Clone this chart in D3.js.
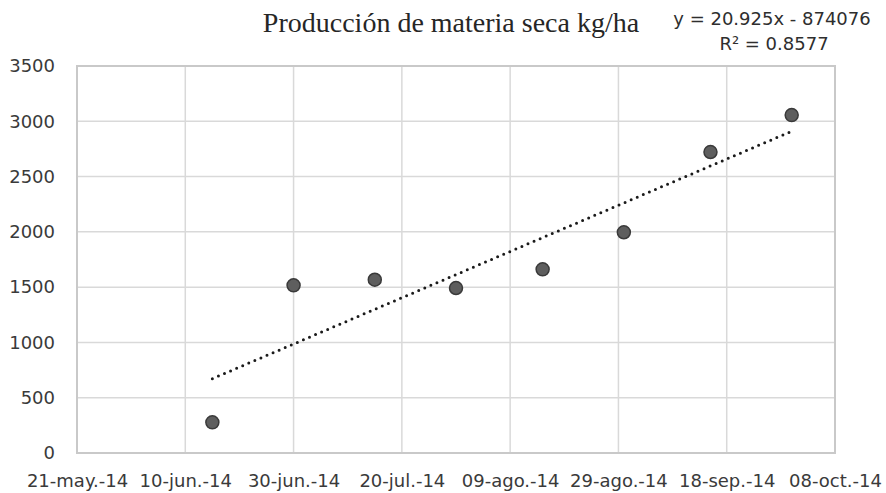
<!DOCTYPE html>
<html>
<head>
<meta charset="utf-8">
<script src="https://cdn.jsdelivr.net/npm/d3@7"></script>
<style>
  body { margin: 0; background: #fff; }
  svg { display: block; }
</style>
</head>
<body>
<svg id="chart" width="886" height="493"></svg>
<script>
// sample dates and dry matter (kg/ha)
const sampleDates = ["2014-06-15", "2014-06-30", "2014-07-15", "2014-07-30",
                     "2014-08-15", "2014-08-30", "2014-09-15", "2014-09-30"];
const dryMatter = [277, 1516, 1567, 1492, 1661, 1996, 2722, 3056];

const xTickDates = ["2014-05-21", "2014-06-10", "2014-06-30", "2014-07-20",
                    "2014-08-09", "2014-08-29", "2014-09-18", "2014-10-08"];
const xTickLabels = ["21-may.-14", "10-jun.-14", "30-jun.-14", "20-jul.-14",
                     "09-ago.-14", "29-ago.-14", "18-sep.-14", "08-oct.-14"];
const yTicks = [0, 500, 1000, 1500, 2000, 2500, 3000, 3500];

const titleText = "Producción de materia seca kg/ha";
const eqLine1 = "y = 20.925x - 874076";
const eqLine2 = "R² = 0.8577";

const parse = d3.utcParse("%Y-%m-%d");
const plotL = 77, plotR = 835, plotT = 66, plotB = 453;

const svg = d3.select("#chart");

const x = d3.scaleUtc()
  .domain([parse(xTickDates[0]), parse(xTickDates[xTickDates.length - 1])])
  .range([plotL, plotR]);
const y = d3.scaleLinear().domain([0, 3500]).range([plotB, plotT]);

// gridlines
const grid = svg.append("g");
grid.selectAll(".hg").data(yTicks).join("line")
  .attr("x1", plotL).attr("x2", plotR)
  .attr("y1", d => y(d)).attr("y2", d => y(d))
  .style("stroke", "#d9d9d9").style("stroke-width", 1.5);
grid.selectAll(".vg").data(xTickDates).join("line")
  .attr("x1", d => x(parse(d))).attr("x2", d => x(parse(d)))
  .attr("y1", plotT).attr("y2", plotB)
  .style("stroke", "#d9d9d9").style("stroke-width", 1.5);
svg.append("rect")
  .attr("x", plotL).attr("y", plotT)
  .attr("width", plotR - plotL).attr("height", plotB - plotT)
  .style("fill", "none").style("stroke", "#c9c9c9").style("stroke-width", 2);

// axes
const yAxis = svg.append("g")
  .attr("transform", `translate(${plotL},0)`)
  .call(d3.axisLeft(y).tickValues(yTicks).tickSize(0).tickPadding(22)
    .tickFormat(d3.format("d")));
const xAxis = svg.append("g")
  .attr("transform", `translate(0,${plotB})`)
  .call(d3.axisBottom(x).tickValues(xTickDates.map(parse)).tickSize(0).tickPadding(21)
    .tickFormat((d, i) => xTickLabels[i]));
[yAxis, xAxis].forEach(a => {
  a.select(".domain").remove();
  a.selectAll("text")
    .style("font-family", "DejaVu Sans")
    .style("font-size", "18px")
    .style("fill", "#3a3a3a");
});

// linear trend (least squares on day number)
const days = sampleDates.map(d => parse(d).getTime() / 864e5);
const mx = d3.mean(days), my = d3.mean(dryMatter);
const slope = d3.sum(days, (d, i) => (d - mx) * (dryMatter[i] - my)) /
              d3.sum(days, d => (d - mx) * (d - mx));
const icpt = my - slope * mx;
const trend = [days[0], days[days.length - 1]];
svg.append("path")
  .datum(trend)
  .attr("d", d3.line()
    .x(d => x(new Date(d * 864e5)))
    .y(d => y(icpt + slope * d)))
  .style("fill", "none")
  .style("stroke", "#1a1a1a")
  .style("stroke-width", 3)
  .style("stroke-linecap", "round")
  .style("stroke-dasharray", "0,6.6");

// points
svg.append("g").selectAll("circle")
  .data(sampleDates)
  .join("circle")
  .attr("cx", d => x(parse(d)))
  .attr("cy", (d, i) => y(dryMatter[i]))
  .attr("r", 6.5)
  .style("fill", "#5e5e5e")
  .style("stroke", "#3a3a3a")
  .style("stroke-width", 1.5);

// title and equation
svg.append("text")
  .attr("x", 451).attr("y", 32)
  .attr("text-anchor", "middle")
  .style("font-family", "Liberation Serif")
  .style("font-size", "28px")
  .style("fill", "#262626")
  .text(titleText);
const eq = svg.append("text")
  .attr("text-anchor", "middle")
  .style("font-family", "DejaVu Sans")
  .style("font-size", "18px")
  .style("fill", "#2e2e2e");
eq.append("tspan").attr("x", 772).attr("y", 25).text(eqLine1);
eq.append("tspan").attr("x", 774).attr("y", 50).text(eqLine2);
</script>
</body>
</html>
